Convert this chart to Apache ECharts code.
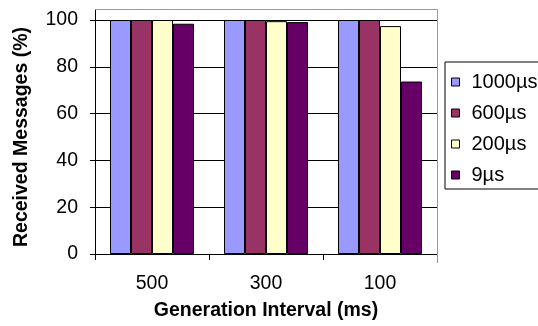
<!DOCTYPE html>
<html>
<head>
<meta charset="utf-8">
<script src="https://cdn.jsdelivr.net/npm/echarts@6/dist/echarts.min.js"></script>
<style>
html,body{margin:0;padding:0;background:#fff;}
#chart{width:538px;height:326px;}
</style>
</head>
<body>
<div id="chart"></div>
<script>
const categories = ['500', '300', '100'];
const seriesNames = ['1000µs', '600µs', '200µs', '9µs'];
const s1000 = [100, 100, 100];
const s600 = [100, 100, 100];
const s200 = [100, 99.5, 97.4];
const s9 = [98.4, 99.1, 73.7];
const yTicks = [0, 20, 40, 60, 80, 100];
const colors = ['#9999FF', '#993366', '#FFFFCC', '#660066'];
const allValues = [s1000, s600, s200, s9];

const FONT = 'Liberation Sans, Arial, sans-serif';
const chart = echarts.init(document.getElementById('chart'), null, {renderer: 'canvas'});

const G = {left: 95, right: 101, top: 20, bottom: 69};
const W = 538, H = 326;
const gx0 = G.left, gx1 = W - G.right, gy1 = H - G.bottom, topBorder = 9;

chart.setOption({
  animation: false,
  backgroundColor: '#ffffff',
  textStyle: {fontFamily: FONT},
  grid: {left: G.left, right: G.right, top: G.top, bottom: G.bottom},
  legend: {
    orient: 'vertical',
    left: 445,
    top: 62,
    padding: [10, 20, 4, 6],
    itemGap: 11,
    itemWidth: 8,
    itemHeight: 8,
    icon: 'rect',
    borderColor: '#000',
    borderWidth: 1,
    textStyle: {fontSize: 20, color: '#000', fontFamily: FONT, padding: [0, 0, 0, 7]},
    itemStyle: {borderColor: '#000', borderWidth: 1},
    data: seriesNames
  },
  xAxis: {
    type: 'category',
    data: categories,
    name: 'Generation Interval (ms)',
    nameLocation: 'middle',
    nameGap: 47,
    nameTextStyle: {fontSize: 19.5, fontWeight: 'bold', color: '#000', fontFamily: FONT},
    axisLine: {lineStyle: {color: '#000', width: 1}},
    axisTick: {show: true, length: 6, lineStyle: {color: '#000'}},
    axisLabel: {fontSize: 19.5, color: '#000', margin: 20, fontFamily: FONT},
    splitLine: {show: false}
  },
  yAxis: {
    type: 'value',
    min: yTicks[0],
    max: yTicks[yTicks.length - 1],
    interval: 20,
    name: 'Received Messages (%)',
    nameLocation: 'middle',
    nameGap: 63,
    nameTextStyle: {fontSize: 19.5, fontWeight: 'bold', color: '#000', fontFamily: FONT},
    axisLine: {show: true, lineStyle: {color: '#000', width: 1}},
    axisTick: {show: true, length: 5, lineStyle: {color: '#000'}},
    axisLabel: {fontSize: 19.5, color: '#000', margin: 17, fontFamily: FONT},
    splitLine: {show: true, lineStyle: {color: '#000', width: 1}}
  },
  graphic: [
    {type: 'polyline', silent: true, z: 100,
     shape: {points: [[gx0 + 0.5, gy1], [gx0 + 0.5, topBorder + 0.5]]},
     style: {stroke: '#000', lineWidth: 1, fill: null}},
    {type: 'polyline', silent: true, z: 100,
     shape: {points: [[gx0 + 0.5, topBorder + 0.5], [gx1 + 0.5, topBorder + 0.5], [gx1 + 0.5, gy1 + 6]]},
     style: {stroke: '#999', lineWidth: 1, fill: null}}
  ],
  series: seriesNames.map((name, i) => ({
    name: name,
    type: 'bar',
    data: allValues[i],
    barGap: '0%',
    barWidth: 21,
    itemStyle: {color: colors[i], borderColor: '#000000', borderWidth: 1}
  }))
});
</script>
</body>
</html>
